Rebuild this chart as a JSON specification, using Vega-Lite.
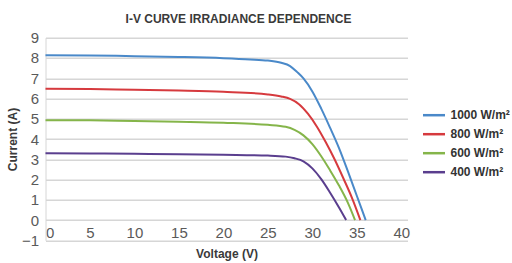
{
  "$schema": "https://vega.github.io/schema/vega-lite/v6.json",
  "autosize": "none",
  "width": 362,
  "height": 202.6,
  "padding": {"left": 45.5, "top": 37.7, "right": 104.5, "bottom": 22.7},
  "background": "white",
  "title": {
    "text": "I-V CURVE IRRADIANCE DEPENDENCE",
    "font": "Liberation Sans",
    "fontSize": 12,
    "fontWeight": "bold",
    "color": "#3a3a3a",
    "anchor": "middle",
    "dx": 12,
    "offset": 5
  },
  "data": {
    "values": [
      {"series": "1000 W/m²", "v": 0, "i": 8.13},
      {"series": "1000 W/m²", "v": 5, "i": 8.12},
      {"series": "1000 W/m²", "v": 10, "i": 8.09},
      {"series": "1000 W/m²", "v": 15, "i": 8.05},
      {"series": "1000 W/m²", "v": 20, "i": 7.99},
      {"series": "1000 W/m²", "v": 23, "i": 7.93},
      {"series": "1000 W/m²", "v": 25, "i": 7.87},
      {"series": "1000 W/m²", "v": 26.5, "i": 7.76},
      {"series": "1000 W/m²", "v": 27.5, "i": 7.6},
      {"series": "1000 W/m²", "v": 28.3, "i": 7.3},
      {"series": "1000 W/m²", "v": 29, "i": 6.99},
      {"series": "1000 W/m²", "v": 30, "i": 6.35},
      {"series": "1000 W/m²", "v": 31, "i": 5.5},
      {"series": "1000 W/m²", "v": 32, "i": 4.55},
      {"series": "1000 W/m²", "v": 33, "i": 3.55},
      {"series": "1000 W/m²", "v": 34, "i": 2.4},
      {"series": "1000 W/m²", "v": 35, "i": 1.2},
      {"series": "1000 W/m²", "v": 36, "i": 0},
      {"series": "800 W/m²", "v": 0, "i": 6.48},
      {"series": "800 W/m²", "v": 5, "i": 6.47},
      {"series": "800 W/m²", "v": 10, "i": 6.43},
      {"series": "800 W/m²", "v": 15, "i": 6.39},
      {"series": "800 W/m²", "v": 20, "i": 6.33},
      {"series": "800 W/m²", "v": 25, "i": 6.2},
      {"series": "800 W/m²", "v": 26.5, "i": 6.1},
      {"series": "800 W/m²", "v": 27.5, "i": 5.98},
      {"series": "800 W/m²", "v": 28.5, "i": 5.72},
      {"series": "800 W/m²", "v": 29.5, "i": 5.25},
      {"series": "800 W/m²", "v": 30.5, "i": 4.62},
      {"series": "800 W/m²", "v": 31.5, "i": 3.85},
      {"series": "800 W/m²", "v": 32.5, "i": 3.0},
      {"series": "800 W/m²", "v": 33.5, "i": 2.05},
      {"series": "800 W/m²", "v": 34.5, "i": 1.05},
      {"series": "800 W/m²", "v": 35.4, "i": 0},
      {"series": "600 W/m²", "v": 0, "i": 4.93},
      {"series": "600 W/m²", "v": 5, "i": 4.92},
      {"series": "600 W/m²", "v": 10, "i": 4.89},
      {"series": "600 W/m²", "v": 15, "i": 4.85},
      {"series": "600 W/m²", "v": 20, "i": 4.8},
      {"series": "600 W/m²", "v": 25, "i": 4.7},
      {"series": "600 W/m²", "v": 27, "i": 4.6},
      {"series": "600 W/m²", "v": 28, "i": 4.45},
      {"series": "600 W/m²", "v": 29, "i": 4.18},
      {"series": "600 W/m²", "v": 30, "i": 3.75},
      {"series": "600 W/m²", "v": 31, "i": 3.15},
      {"series": "600 W/m²", "v": 32, "i": 2.45},
      {"series": "600 W/m²", "v": 33, "i": 1.7},
      {"series": "600 W/m²", "v": 34, "i": 0.85},
      {"series": "600 W/m²", "v": 34.8, "i": 0},
      {"series": "400 W/m²", "v": 0, "i": 3.3},
      {"series": "400 W/m²", "v": 5, "i": 3.29},
      {"series": "400 W/m²", "v": 10, "i": 3.27},
      {"series": "400 W/m²", "v": 15, "i": 3.25},
      {"series": "400 W/m²", "v": 20, "i": 3.22},
      {"series": "400 W/m²", "v": 25, "i": 3.18},
      {"series": "400 W/m²", "v": 27, "i": 3.13},
      {"series": "400 W/m²", "v": 28, "i": 3.05},
      {"series": "400 W/m²", "v": 29, "i": 2.9},
      {"series": "400 W/m²", "v": 30, "i": 2.55},
      {"series": "400 W/m²", "v": 31, "i": 2.02},
      {"series": "400 W/m²", "v": 32, "i": 1.35},
      {"series": "400 W/m²", "v": 33, "i": 0.62},
      {"series": "400 W/m²", "v": 33.8, "i": 0}
    ]
  },
  "mark": {"type": "line", "interpolate": "monotone", "strokeWidth": 2},
  "encoding": {
    "x": {
      "field": "v",
      "type": "quantitative",
      "scale": {"domain": [0, 40.7], "nice": false, "zero": false},
      "axis": {
        "title": "Voltage (V)",
        "values": [0, 5, 10, 15, 20, 25, 30, 35, 40],
        "grid": false,
        "domain": false,
        "ticks": false,
        "labelFlush": true,
        "labelPadding": -15,
        "labelFont": "Liberation Sans",
        "labelFontSize": 15,
        "labelColor": "#5a5a5a",
        "titleFont": "Liberation Sans",
        "titleFontSize": 12,
        "titleFontWeight": "bold",
        "titleColor": "#3a3a3a",
        "titlePadding": 8
      }
    },
    "y": {
      "field": "i",
      "type": "quantitative",
      "scale": {"domain": [-1, 9], "nice": false, "zero": false},
      "axis": {
        "title": "Current (A)",
        "values": [-1, 0, 1, 2, 3, 4, 5, 6, 7, 8, 9],
        "grid": true,
        "gridColor": "#d6d6d6",
        "gridWidth": 1.5,
        "domain": true,
        "domainColor": "#d6d6d6",
        "domainWidth": 1,
        "ticks": false,
        "labelPadding": 7,
        "labelFont": "Liberation Sans",
        "labelFontSize": 15,
        "labelColor": "#5a5a5a",
        "titleFont": "Liberation Sans",
        "titleFontSize": 12,
        "titleFontWeight": "bold",
        "titleColor": "#3a3a3a",
        "titlePadding": 2
      }
    },
    "color": {
      "field": "series",
      "type": "nominal",
      "sort": ["1000 W/m²", "800 W/m²", "600 W/m²", "400 W/m²"],
      "scale": {
        "domain": ["1000 W/m²", "800 W/m²", "600 W/m²", "400 W/m²"],
        "range": ["#4a89c9", "#d63a3e", "#85b54a", "#5a3e8e"]
      },
      "legend": {
        "title": null,
        "orient": "none",
        "legendX": 376,
        "legendY": 65,
        "symbolType": "stroke",
        "symbolSize": 484,
        "symbolStrokeWidth": 2.5,
        "labelFont": "Liberation Sans",
        "labelFontSize": 12,
        "labelFontWeight": "bold",
        "labelColor": "#333333",
        "labelOffset": 4,
        "rowPadding": 0
      }
    }
  },
  "config": {"view": {"stroke": null}}
}
